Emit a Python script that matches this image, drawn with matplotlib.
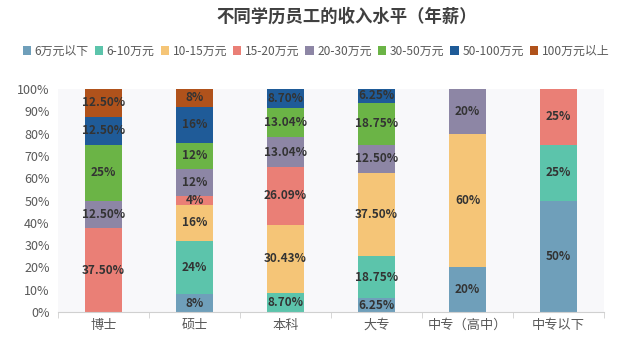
import matplotlib
matplotlib.use("Agg")
import matplotlib.pyplot as plt
import numpy as np

plt.rcParams['font.family'] = ['Noto Sans CJK SC', 'DejaVu Sans']

categories = ["博士", "硕士", "本科", "大专", "中专（高中）", "中专以下"]
series_names = ["6万元以下", "6-10万元", "10-15万元", "15-20万元",
                "20-30万元", "30-50万元", "50-100万元", "100万元以上"]
colors = ["#6f9fba", "#5cc4ab", "#f5c577", "#ea7f76",
          "#8d86a5", "#6bb446", "#1f5b98", "#b0521b"]

s_6below = [0, 8, 0, 6.25, 20, 50]
s_6_10 = [0, 24, 8.70, 18.75, 0, 25]
s_10_15 = [0, 16, 30.43, 37.50, 60, 0]
s_15_20 = [37.50, 4, 26.09, 0, 0, 25]
s_20_30 = [12.50, 12, 13.04, 12.50, 20, 0]
s_30_50 = [25, 12, 13.04, 18.75, 0, 0]
s_50_100 = [12.50, 16, 8.70, 6.25, 0, 0]
s_100up = [12.50, 8, 0, 0, 0, 0]

labels_text = [
    ["", "8%", "", "6.25%", "20%", "50%"],
    ["", "24%", "8.70%", "18.75%", "", "25%"],
    ["", "16%", "30.43%", "37.50%", "60%", ""],
    ["37.50%", "4%", "26.09%", "", "", "25%"],
    ["12.50%", "12%", "13.04%", "12.50%", "20%", ""],
    ["25%", "12%", "13.04%", "18.75%", "", ""],
    ["12.50%", "16%", "8.70%", "6.25%", "", ""],
    ["12.50%", "8%", "", "", "", ""],
]

series = [s_6below, s_6_10, s_10_15, s_15_20, s_20_30, s_30_50, s_50_100, s_100up]

fig = plt.figure(figsize=(6.4, 3.41), dpi=100)
ax = fig.add_axes([58/640, 1 - 312/341, 546/640, 223/341])
ax.set_facecolor("#f8f8fa")

x = np.arange(len(categories))
bottom = np.zeros(len(categories))
handles = []
for vals, name, col, labs in zip(series, series_names, colors, labels_text):
    vals = np.array(vals, dtype=float)
    h = ax.bar(x, vals, bottom=bottom, width=0.4, color=col, label=name, linewidth=0)
    handles.append(h)
    for i, (v, t) in enumerate(zip(vals, labs)):
        if t:
            ax.text(x[i], bottom[i] + v / 2, t, ha="center", va="center",
                    fontsize=8.5, fontweight="bold", color="#333333")
    bottom += vals

ax.set_xlim(-0.5, len(categories) - 0.5)
ax.set_ylim(0, 100)
ax.set_yticks(np.arange(0, 101, 10))
ax.set_yticklabels([f"{v}%" for v in range(0, 101, 10)], fontsize=9, color="#595959")
ax.set_xticks(x)
ax.set_xticklabels(categories, fontsize=9.5, color="#595959")
ax.tick_params(axis="y", length=0, pad=6)
ax.tick_params(axis="x", length=0, pad=5)
ax.set_xticks(np.arange(-0.5, len(categories), 1), minor=True)
ax.tick_params(axis="x", which="minor", length=4, color="#d0d0d0", direction="out")
for sp in ["top", "right", "left"]:
    ax.spines[sp].set_visible(False)
ax.spines["bottom"].set_color("#d0d0d0")

fig.text(347/640, 1 - 17/341, "不同学历员工的收入水平（年薪）", ha="center", va="center",
         fontsize=12.5, fontweight="bold", color="#404040")

fig.legend(handles=handles, labels=series_names, loc="center",
           bbox_to_anchor=(316/640, 1 - 51/341), ncol=8, frameon=False,
           fontsize=8.6, handlelength=0.7, handleheight=0.7, handletextpad=0.3,
           columnspacing=0.5, labelcolor="#595959")

fig.savefig("out.png", dpi=100, facecolor="white")
